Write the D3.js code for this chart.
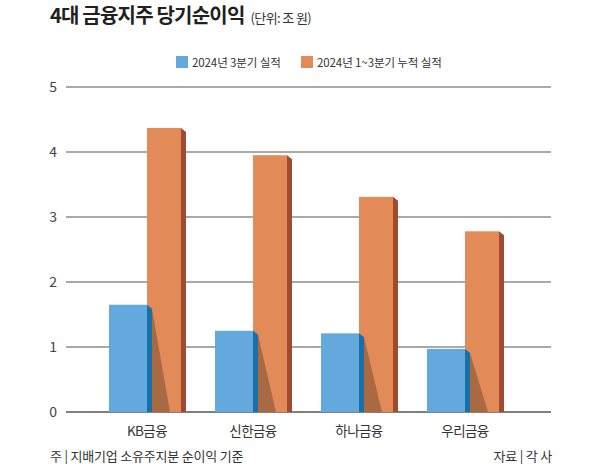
<!DOCTYPE html>
<html>
<head>
<meta charset="utf-8">
<script src="https://cdn.jsdelivr.net/npm/d3@7"></script>
<style>
  body { margin: 0; background: #fff; }
  svg { display: block; font-family: "Noto Sans CJK KR", "Noto Sans", sans-serif; }
</style>
</head>
<body>
<svg id="chart" width="600" height="464"></svg>
<script>
// data (조 원)
var banks = ["KB금융", "신한금융", "하나금융", "우리금융"];
var q3 = [1.65, 1.25, 1.21, 0.97];
var cum = [4.37, 3.95, 3.31, 2.78];
var yTicks = [0, 1, 2, 3, 4, 5];
var legendNames = ["2024년 3분기 실적", "2024년 1~3분기 누적 실적"];

var svg = d3.select("#chart");

var x = d3.scaleBand().domain(banks).range([94, 518]);
var y = d3.scaleLinear().domain([0, 5]).range([412, 87]);

// title
var title = svg.append("text")
    .attr("x", 50).attr("y", 23)
    .attr("font-size", 20).attr("font-weight", 700)
    .attr("letter-spacing", -0.8)
    .attr("fill", "#231f20");
title.append("tspan").text("4대 금융지주 당기순이익");
title.append("tspan")
    .attr("dx", 6)
    .attr("font-size", 13).attr("font-weight", 400)
    .attr("letter-spacing", -0.6)
    .attr("fill", "#333")
    .text("(단위: 조 원)");

// legend
var legCols = ["#64a9de", "#e28b58"];
var legX = [176, 301];
legendNames.forEach(function(n, i){
    svg.append("rect")
        .attr("x", legX[i]).attr("y", 56)
        .attr("width", 12).attr("height", 12)
        .attr("fill", legCols[i]);
    svg.append("text")
        .attr("x", legX[i] + 16).attr("y", 66.5)
        .attr("font-size", 11.5).attr("letter-spacing", -0.1)
        .attr("fill", "#333")
        .text(n);
});

// grid + y labels
svg.append("g").selectAll("line")
    .data(yTicks)
    .enter().append("line")
    .attr("x1", 66).attr("x2", 551)
    .attr("y1", function(d){ return y(d); })
    .attr("y2", function(d){ return y(d); })
    .attr("stroke", function(d){ return d == 0 ? "#555" : "#8c8c8c"; })
    .attr("stroke-width", 1.5);

svg.append("g").selectAll("text")
    .data(yTicks)
    .enter().append("text")
    .attr("x", 57).attr("y", function(d){ return y(d) + 5; })
    .attr("text-anchor", "end")
    .attr("font-size", 14)
    .attr("fill", "#444")
    .text(function(d){ return d; });

// bars
var bw = 38, ow = 34, side = 5, bev = 4;
var groups = svg.append("g").selectAll("g")
    .data(banks)
    .enter().append("g");

groups.each(function(b, i){
    var g = d3.select(this);
    var c = x(b) + x.bandwidth() / 2;
    var y0 = y(0);
    var ot = y(cum[i]), bt = y(q3[i]);

    // orange front
    g.append("rect")
        .attr("x", c).attr("y", ot)
        .attr("width", ow).attr("height", y0 - ot)
        .attr("fill", "#e28b58");
    // orange side
    g.append("polygon")
        .attr("points", [[c+ow, ot], [c+ow+side, ot+bev], [c+ow+side, y0], [c+ow, y0]].join(" "))
        .attr("fill", "#a04b31");
    // shadow of blue bar on orange
    g.append("polygon")
        .attr("points", [[c+side, bt+bev], [c+side+18, y0], [c+side, y0]].join(" "))
        .attr("fill", "#a96a43");
    // blue front
    g.append("rect")
        .attr("x", c - bw).attr("y", bt)
        .attr("width", bw).attr("height", y0 - bt)
        .attr("fill", "#64a9de");
    // blue side
    g.append("polygon")
        .attr("points", [[c, bt], [c+side, bt+bev], [c+side, y0], [c, y0]].join(" "))
        .attr("fill", "#1870a9");

    g.append("text")
        .attr("x", c).attr("y", 436)
        .attr("text-anchor", "middle")
        .attr("font-size", 13.5).attr("letter-spacing", -0.6)
        .attr("fill", "#333")
        .text(b);
});

// footer
svg.append("text")
    .attr("x", 50).attr("y", 461)
    .attr("font-size", 13).attr("letter-spacing", -0.2)
    .attr("fill", "#333")
    .text("주 | 지배기업 소유주지분 순이익 기준");
svg.append("text")
    .attr("x", 552).attr("y", 461)
    .attr("text-anchor", "end")
    .attr("font-size", 13).attr("letter-spacing", -0.2)
    .attr("fill", "#333")
    .text("자료 | 각 사");
</script>
</body>
</html>
